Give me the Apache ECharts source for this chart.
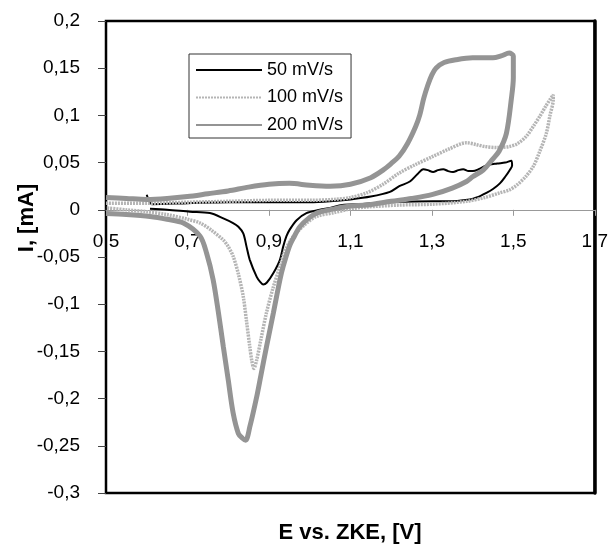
<!DOCTYPE html>
<html>
<head>
<meta charset="utf-8">
<script src="https://cdn.jsdelivr.net/npm/echarts@6/dist/echarts.min.js"></script>
<style>html,body{margin:0;padding:0;background:#fff}#c{width:611px;height:544px}</style>
</head>
<body>
<div id="c"></div>
<script>
const seriesNames = ['50 mV/s', '100 mV/s', '200 mV/s'];
const xTicks = { min: 0.5, max: 1.7, interval: 0.2 };
const yTicks = { min: -0.3, max: 0.2, interval: 0.05 };
const xTitle = 'E vs. ZKE, [V]';
const yTitle = 'I, [mA]';

const s50 = [
 [0.60,0.016],[0.605,0.010],[0.612,0.006],[0.70,0.007],[0.80,0.008],[0.90,0.008],[1.00,0.008],[1.05,0.009],
 [1.10,0.011],[1.15,0.014],[1.197,0.019],[1.22,0.025],[1.246,0.030],[1.265,0.038],[1.279,0.043],[1.29,0.042],
 [1.303,0.040],[1.315,0.042],[1.328,0.043],[1.34,0.041],[1.352,0.040],[1.365,0.042],[1.377,0.043],
 [1.39,0.041],[1.401,0.041],[1.415,0.043],[1.434,0.047],[1.46,0.049],[1.48,0.050],[1.495,0.052],
 [1.497,0.047],[1.491,0.042],[1.48,0.035],[1.467,0.028],[1.45,0.022],[1.434,0.018],[1.41,0.013],[1.393,0.011],
 [1.34,0.009],[1.303,0.009],[1.2,0.008],[1.12,0.006],[1.08,0.005],[1.05,0.002],[1.025,0.0],[0.992,-0.0035],
 [0.968,-0.011],[0.951,-0.021],[0.943,-0.028],[0.935,-0.039],[0.927,-0.053],[0.911,-0.067],[0.895,-0.077],
 [0.886,-0.079],[0.878,-0.076],[0.870,-0.071],[0.853,-0.053],[0.845,-0.039],[0.837,-0.025],[0.825,-0.018],
 [0.812,-0.014],[0.788,-0.009],[0.755,-0.0035],[0.706,-0.002],[0.65,0.0],[0.608,0.001]
];
const s100 = [
 [0.50,0.007],[0.60,0.007],[0.70,0.008],[0.80,0.009],[0.90,0.010],[1.00,0.010],[1.06,0.011],[1.10,0.013],
 [1.14,0.018],[1.18,0.027],[1.22,0.039],[1.26,0.048],[1.30,0.056],[1.34,0.064],[1.385,0.071],[1.41,0.069],
 [1.43,0.067],[1.46,0.066],[1.49,0.067],[1.51,0.070],[1.532,0.078],[1.55,0.089],[1.565,0.099],[1.58,0.110],
 [1.598,0.122],[1.598,0.117],[1.59,0.100],[1.581,0.081],[1.565,0.062],[1.549,0.046],[1.53,0.035],[1.508,0.026],
 [1.49,0.021],[1.467,0.018],[1.43,0.013],[1.385,0.009],[1.303,0.006],[1.22,0.005],[1.14,0.003],[1.10,0.001],
 [1.06,-0.003],[1.017,-0.007],[0.99,-0.015],[0.96,-0.028],[0.94,-0.043],[0.927,-0.060],[0.91,-0.083],
 [0.894,-0.109],[0.88,-0.138],[0.870,-0.159],[0.863,-0.168],[0.858,-0.160],[0.853,-0.145],[0.845,-0.118],
 [0.837,-0.092],[0.825,-0.068],[0.812,-0.049],[0.80,-0.039],[0.788,-0.032],[0.76,-0.022],[0.731,-0.014],
 [0.70,-0.010],[0.649,-0.005],[0.60,-0.002],[0.55,0.000],[0.50,0.002]
];
const s200 = [
 [0.50,0.013],[0.55,0.012],[0.60,0.011],[0.65,0.012],[0.70,0.014],[0.75,0.017],[0.80,0.020],[0.85,0.024],
 [0.90,0.027],[0.95,0.028],[1.00,0.026],[1.05,0.025],[1.10,0.027],[1.15,0.034],[1.18,0.042],[1.20,0.049],
 [1.22,0.057],[1.24,0.070],[1.26,0.088],[1.27,0.100],[1.28,0.118],[1.29,0.132],[1.30,0.143],[1.31,0.150],
 [1.33,0.156],[1.36,0.159],[1.40,0.161],[1.45,0.161],[1.47,0.163],[1.49,0.166],[1.50,0.163],[1.50,0.140],
 [1.495,0.117],[1.483,0.081],[1.465,0.062],[1.45,0.054],[1.426,0.042],[1.40,0.035],[1.385,0.030],[1.35,0.023],
 [1.30,0.016],[1.25,0.012],[1.20,0.009],[1.14,0.005],[1.10,0.004],[1.06,0.001],[1.02,-0.003],[1.00,-0.008],
 [0.976,-0.018],[0.96,-0.030],[0.95,-0.039],[0.935,-0.060],[0.927,-0.074],[0.911,-0.109],[0.894,-0.145],
 [0.88,-0.176],[0.87,-0.198],[0.853,-0.230],[0.843,-0.244],[0.835,-0.242],[0.825,-0.237],[0.812,-0.215],
 [0.80,-0.180],[0.788,-0.145],[0.776,-0.109],[0.763,-0.074],[0.747,-0.046],[0.731,-0.028],[0.69,-0.014],
 [0.65,-0.010],[0.608,-0.007],[0.55,-0.005],[0.50,-0.004]
];

const FONT = '"Liberation Sans", Arial, sans-serif';
const fmt = (d) => (v) => String(Math.round(v * Math.pow(10, d)) / Math.pow(10, d)).replace('.', ',');

const GRID = { left: 106, right: 16, top: 21, bottom: 51 };
const plotH = 544 - GRID.top - GRID.bottom;
// move the x axis up to the y = 0 level (axis crosses at zero)
const zeroOffset = -plotH * (0 - yTicks.min) / (yTicks.max - yTicks.min);

const chart = echarts.init(document.getElementById('c'), null, { renderer: 'canvas' });
chart.setOption({
  animation: false,
  backgroundColor: '#fff',
  grid: Object.assign({ show: true, borderColor: '#000', borderWidth: 2.5, backgroundColor: 'transparent' }, GRID),
  legend: {
    orient: 'vertical', left: 189, top: 54,
    data: seriesNames,
    itemWidth: 66, itemHeight: 18, itemGap: 9.5,
    padding: [7, 8, 4, 6],
    borderColor: '#333', borderWidth: 1, backgroundColor: '#fff',
    itemStyle: { opacity: 0 },
    textStyle: { fontFamily: FONT, fontSize: 18, color: '#000' }
  },
  xAxis: {
    type: 'value', min: xTicks.min, max: xTicks.max, interval: xTicks.interval,
    position: 'bottom', offset: zeroOffset,
    axisLine: { show: true, onZero: false, lineStyle: { color: '#999', width: 1 } },
    axisTick: { show: true, length: 6, lineStyle: { color: '#999', width: 1 } },
    axisLabel: { formatter: fmt(1), fontFamily: FONT, fontSize: 19, color: '#000', margin: 22, showMinLabel: true, showMaxLabel: true },
    splitLine: { show: false }
  },
  yAxis: [
    {
      type: 'value', min: yTicks.min, max: yTicks.max, interval: yTicks.interval,
      axisLine: { show: true, onZero: false, lineStyle: { color: '#000', width: 2 } },
      axisTick: { show: true, length: 8, lineStyle: { color: '#444', width: 1 } },
      axisLabel: { formatter: fmt(2), fontFamily: FONT, fontSize: 19, color: '#000', margin: 26 },
      splitLine: { show: false }
    },
    {
      type: 'value', position: 'right', min: yTicks.min, max: yTicks.max, interval: yTicks.interval,
      axisLine: { show: true, onZero: false, lineStyle: { color: '#000', width: 3.5 } },
      axisTick: { show: false }, axisLabel: { show: false }, splitLine: { show: false }
    }
  ],
  graphic: [
    { type: 'text', x: 350, y: 533, style: { text: xTitle, font: 'bold 22px ' + FONT, fill: '#000', align: 'center', verticalAlign: 'middle' } },
    { type: 'text', x: 27, y: 218, rotation: Math.PI / 2, style: { text: yTitle, font: 'bold 22px ' + FONT, fill: '#000', align: 'center', verticalAlign: 'middle' } }
  ],
  series: [
    { name: seriesNames[0], type: 'line', data: s50, symbol: 'none', smooth: 0.3, z: 2,
      lineStyle: { color: '#000', width: 2 }, itemStyle: { color: '#000' } },
    { name: seriesNames[1], type: 'line', data: s100, symbol: 'none', smooth: 0.3, z: 3,
      lineStyle: { color: '#b5b5b5', width: 3.5, type: [2, 1] }, itemStyle: { color: '#b5b5b5' } },
    { name: seriesNames[2], type: 'line', data: s200, symbol: 'none', smooth: 0.3, z: 4,
      lineStyle: { color: '#949494', width: 5 }, itemStyle: { color: '#949494' } }
  ]
});
</script>
</body>
</html>
